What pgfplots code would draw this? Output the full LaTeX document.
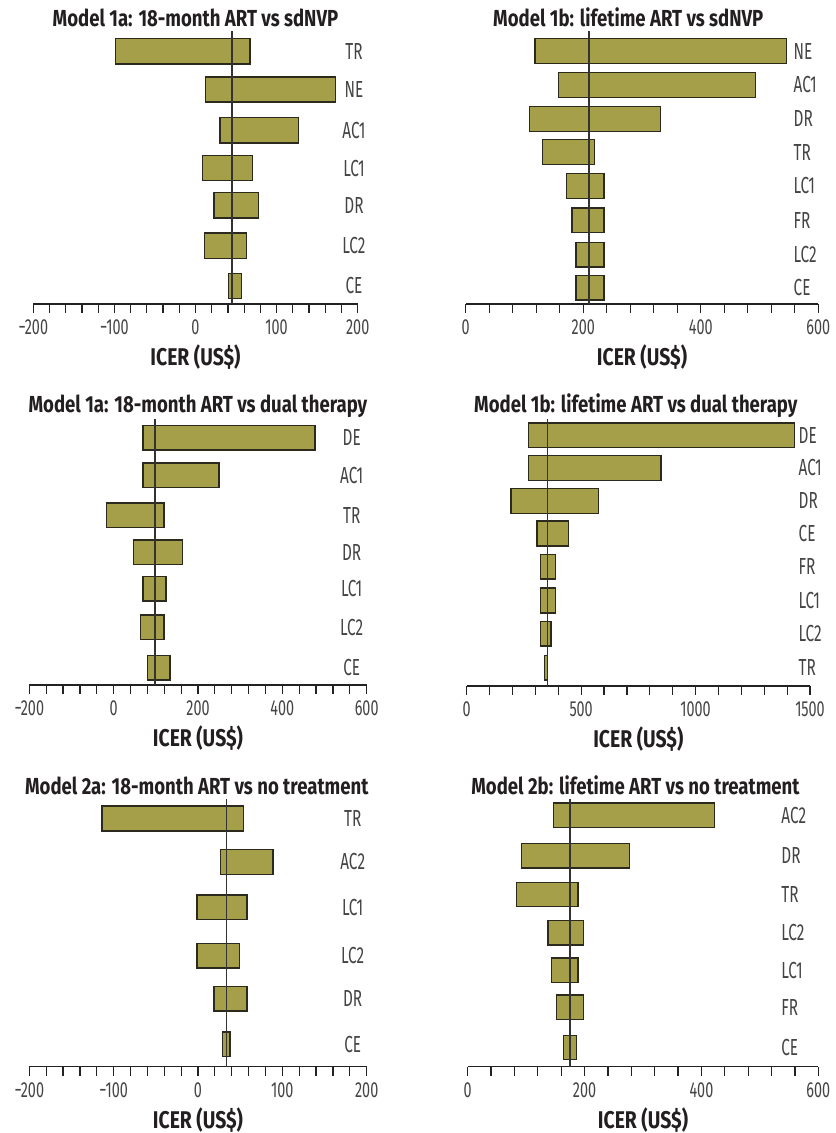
\documentclass[border=0pt]{standalone}
\usepackage{fontspec}
\setmainfont{Fira Sans}[FakeStretch=0.66]
\newfontfamily\boldcond{Fira Sans}[FakeStretch=0.8]
\usepackage{pgfplots}
\pgfplotsset{compat=1.18}
\definecolor{barfill}{HTML}{A69F4A}
\definecolor{barline}{HTML}{2B2A1C}
\definecolor{refc}{HTML}{333333}
\definecolor{axisc}{HTML}{222222}
\definecolor{labc}{HTML}{444444}
\definecolor{titc}{HTML}{231F20}
% \tb{position}{low}{high} ; \bh = half bar height (axis units)
\newcommand\tb[3]{%
  \pgfmathsetmacro\ya{#1-\bh}\pgfmathsetmacro\yb{#1+\bh}%
  \edef\temp{\noexpand\addplot[fill=barfill, draw=barline, line width=0.7pt]
    coordinates {(#2,\ya) (#3,\ya) (#3,\yb) (#2,\yb)} -- cycle;}\temp}
\pgfplotsset{
  tornado/.style={
    scale only axis, anchor=south west, clip=false,
    axis x line=bottom, axis y line=right,
    x axis line style={-, line width=0.65pt, draw=axisc},
    y axis line style={draw=none},
    ytick style={draw=none},
    xtick style={line width=0.6pt, draw=axisc},
    tick align=outside,
    major tick length=4.5pt,
    ymin=0,
    xticklabel style={font=\fontsize{10.9}{12}\selectfont, text=labc},
    yticklabel style={font=\fontsize{11.6}{13}\selectfont, text=labc, inner sep=0pt},
    every axis title shift=0pt,
    title style={font=\boldcond\bfseries\fontsize{11.6}{13}\selectfont, text=titc,
      at={(axis description cs:0.5,1)}, anchor=base, yshift=2.5pt},
    xlabel={ICER (US\$)},
    xlabel style={font=\boldcond\bfseries\fontsize{12.1}{14}\selectfont, text=titc,
      at={(axis description cs:0.5,0)}, anchor=base, yshift=-30.75pt},
  },
  refline/.style={draw=refc, line width=0.7pt},
}
\begin{document}
\begin{tikzpicture}
\path[use as bounding box] (0,0) rectangle (417.5pt,566.5pt);
% ---------- Model 1a vs sdNVP
\begin{axis}[tornado, at={(16.65pt,414.5pt)}, width=162.2pt, height=133.65pt,
  xmin=-200, xmax=200, ymax=267.3,
  xtick={-200,-180,...,200},
  xticklabels={−200,,,,,−100,,,,,0,,,,,100,,,,,200},
  ytick={247.8,210.3,170.2,133.3,96.7,57.2,17.7},
  yticklabels={TR,NE,AC1,LC1,DR,LC2,CE},
  yticklabel style={anchor=center, xshift=-6.35pt},
  title={Model 1a: 18-month ART vs sdNVP}]
\def\bh{12.35}
\tb{247.8}{-99}{67}
\tb{210.3}{12}{173}
\tb{170.2}{30}{127}
\tb{133.3}{9}{70}
\tb{96.7}{23}{78}
\tb{57.2}{11}{63}
\tb{17.7}{40.5}{57}
\addplot[refline] coordinates {(45,0) (45,267.3)};
\end{axis}
% ---------- Model 1b vs sdNVP
\begin{axis}[tornado, at={(232.85pt,414.5pt)}, width=176.3pt, height=133.65pt,
  xmin=0, xmax=600, ymax=267.3,
  xtick={0,40,...,600},
  xticklabels={0,,,,,200,,,,,400,,,,,600},
  ytick={247.8,214.7,181.5,148.8,115.7,82,48.3,16},
  yticklabels={NE,AC1,DR,TR,LC1,FR,LC2,CE},
  yticklabel style={anchor=west, xshift=-17pt},
  title={Model 1b: lifetime ART vs sdNVP}, title style={xshift=-6.85pt}]
\def\bh{12.2}
\tb{247.8}{118}{546}
\tb{214.7}{158}{493}
\tb{181.5}{109}{331}
\tb{148.8}{131}{219}
\tb{115.7}{172}{235}
\tb{82}{181}{235}
\tb{48.3}{188}{235}
\tb{16}{188}{235}
\addplot[refline] coordinates {(210,0) (210,267.3)};
\end{axis}
% ---------- Model 1a vs dual therapy
\begin{axis}[tornado, at={(14.65pt,224pt)}, width=168.7pt, height=132.85pt,
  xmin=-200, xmax=600, ymax=265.7,
  xtick={-200,-160,...,600},
  xticklabels={−200,,,,,0,,,,,200,,,,,400,,,,,600},
  ytick={247.2,209.7,169.7,132.7,96,57.7,17},
  yticklabels={DE,AC1,TR,DR,LC1,LC2,CE},
  yticklabel style={anchor=center, xshift=-12pt},
  title={Model 1a: 18-month ART vs dual therapy}, title style={yshift=0.75pt}]
\def\bh{12.2}
\tb{247.2}{70}{477}
\tb{209.7}{70}{250}
\tb{169.7}{-17}{119}
\tb{132.7}{47}{163}
\tb{96}{70}{124}
\tb{57.7}{64}{119}
\tb{17}{80}{134}
\addplot[refline] coordinates {(98,0) (98,265.7)};
\end{axis}
% ---------- Model 1b vs dual therapy
\begin{axis}[tornado, at={(233.35pt,223.5pt)}, width=171.65pt, height=133.5pt,
  xmin=0, xmax=1500, ymax=267,
  xtick={0,100,...,1500},
  xticklabels={0,,,,,500,,,,,1000,,,,,1500},
  ytick={250.7,218,185,152.5,119.2,85.5,52.3,18.2},
  yticklabels={DE,AC1,DR,CE,FR,LC1,LC2,TR},
  yticklabel style={anchor=west, xshift=-10.35pt},
  title={Model 1b: lifetime ART vs dual therapy}, title style={xshift=-1.25pt, yshift=0.75pt}]
\def\bh{12.35}
\tb{250.7}{269}{1432}
\tb{218}{269}{849}
\tb{185}{194}{577}
\tb{152.5}{307}{446}
\tb{119.2}{322}{389}
\tb{85.5}{322}{389}
\tb{52.3}{322}{368}
\tb{18.2}{339}{352}
\addplot[refline] coordinates {(352,0) (352,267)};
\end{axis}
% ---------- Model 2a vs no treatment
\begin{axis}[tornado, at={(14.65pt,33.15pt)}, width=168.7pt, height=133.7pt,
  xmin=-200, xmax=200, ymax=267.4,
  xtick={-200,-180,...,200},
  xticklabels={−200,,,,,−100,,,,,0,,,,,100,,,,,200},
  ytick={248.2,204.7,159.5,110.9,67.9,22.5},
  yticklabels={TR,AC2,LC1,LC2,DR,CE},
  yticklabel style={anchor=center, xshift=-11.5pt},
  title={Model 2a: 18-month ART vs no treatment}, title style={xshift=-0.6pt}]
\def\bh{12.35}
\tb{248.2}{-114}{54}
\tb{204.7}{27}{89}
\tb{159.5}{-1}{58}
\tb{110.9}{-1}{49}
\tb{67.9}{19}{58}
\tb{22.5}{29}{38}
\addplot[refline] coordinates {(34,0) (34,267.4)};
\end{axis}
% ---------- Model 2b vs no treatment
\begin{axis}[tornado, at={(233.85pt,33.15pt)}, width=175.3pt, height=133.7pt,
  xmin=0, xmax=600, ymax=267.4,
  xtick={0,40,...,600},
  xticklabels={0,,,,,200,,,,,400,,,,,600},
  ytick={251.5,210.7,172.2,133.9,96.4,59.4,19.2},
  yticklabels={AC2,DR,TR,LC2,LC1,FR,CE},
  yticklabel style={anchor=west, xshift=-23.15pt},
  title={Model 2b: lifetime ART vs no treatment}, title style={xshift=-3.75pt}]
\def\bh{12.2}
\tb{251.5}{147}{422}
\tb{210.7}{92}{277}
\tb{172.2}{83}{189}
\tb{133.9}{137.5}{198}
\tb{96.4}{143}{189}
\tb{59.4}{152}{198.5}
\tb{19.2}{164}{186.5}
\addplot[refline] coordinates {(175,0) (175,267.4)};
\end{axis}
\end{tikzpicture}
\end{document}
